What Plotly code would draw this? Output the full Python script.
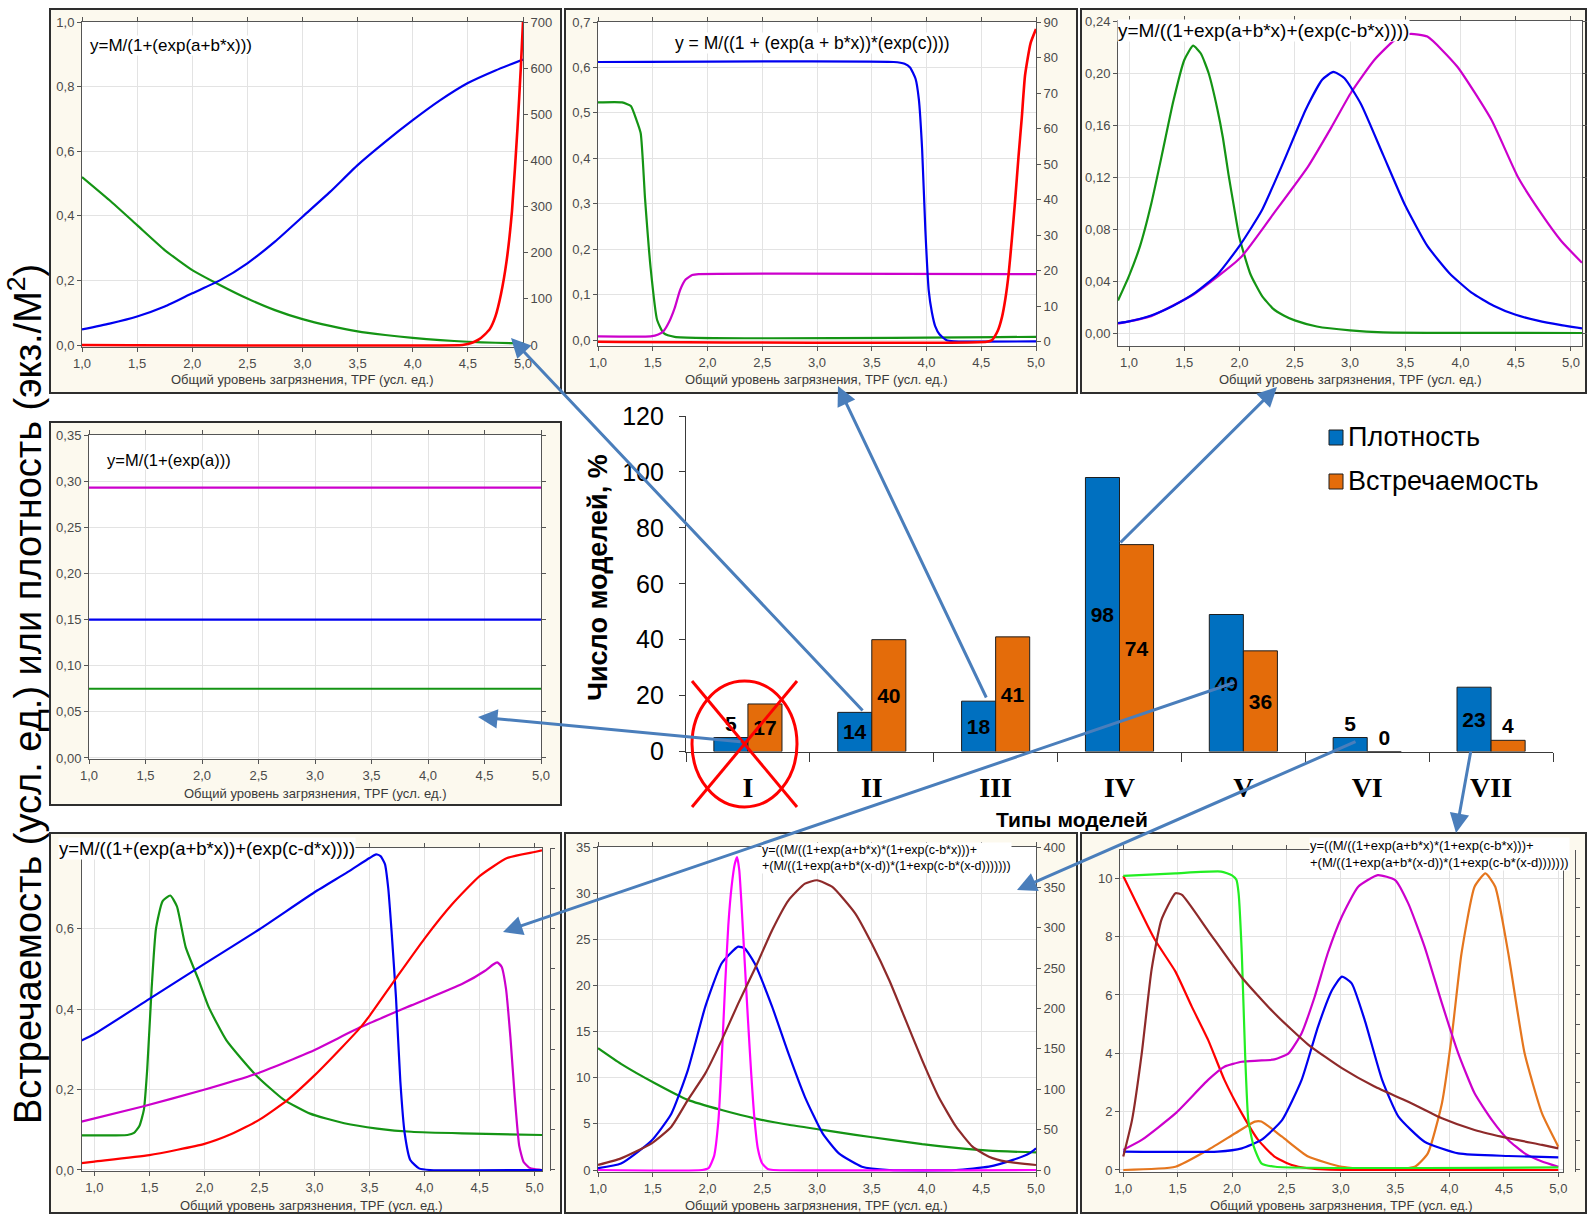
import plotly.graph_objects as go

W, H = 1588, 1217

# ------------------------------------------------------------------ data
# Share of models of each type, %
model_types = ["I", "II", "III", "IV", "V", "VI", "VII"]
density_pct = [5, 14, 18, 98, 49, 5, 23]
occurrence_pct = [17, 40, 41, 74, 36, 0, 4]

# Type I: y=M/(1+(exp(a)))  -- constant levels
t1_x = [1.0, 5.0]
t1_magenta = [0.293, 0.293]
t1_blue = [0.150, 0.150]
t1_green = [0.075, 0.075]

# Type II: y=M/(1+(exp(a+b*x)))
t2_x = [1.0, 1.25, 1.5, 1.75, 2.0, 2.25, 2.5, 2.75, 3.0, 3.25, 3.5, 3.75, 4.0, 4.25, 4.5, 4.75, 5.0]
t2_blue = [0.048, 0.066, 0.088, 0.119, 0.160, 0.200, 0.253, 0.320, 0.397, 0.474, 0.557, 0.629, 0.696, 0.758, 0.811, 0.850, 0.884]
t2_green = [0.520, 0.448, 0.371, 0.294, 0.232, 0.186, 0.144, 0.108, 0.080, 0.059, 0.042, 0.031, 0.022, 0.015, 0.010, 0.007, 0.005]
t2_red_x = [1.0, 4.45, 4.5, 4.55, 4.6, 4.65, 4.7, 4.75, 4.8, 4.85, 4.9, 4.95, 4.98, 5.0]
t2_red = [0, 0, 2, 6, 12, 22, 35, 62, 110, 180, 290, 470, 600, 700]

# Type III: y = M/((1 + (exp(a + b*x))*(exp(c))))
t3_blue_x = [1.0, 3.7, 3.8, 3.85, 3.9, 3.93, 3.96, 3.99, 4.02, 4.05, 4.08, 4.12, 4.18, 4.25, 5.0]
t3_blue = [0.612, 0.612, 0.608, 0.600, 0.575, 0.530, 0.420, 0.240, 0.110, 0.060, 0.030, 0.012, 0.000, -0.003, -0.003]
t3_green_x = [1.0, 1.22, 1.3, 1.35, 1.39, 1.43, 1.48, 1.54, 1.6, 1.7, 5.0]
t3_green = [0.523, 0.523, 0.515, 0.485, 0.455, 0.310, 0.160, 0.044, 0.015, 0.007, 0.007]
t3_magenta_x = [1.0, 1.48, 1.55, 1.6, 1.65, 1.7, 1.75, 1.8, 1.86, 1.92, 5.0]
t3_magenta = [0.008, 0.008, 0.012, 0.020, 0.040, 0.070, 0.110, 0.133, 0.143, 0.145, 0.145]
t3_red_x = [1.0, 4.55, 4.6, 4.65, 4.69, 4.72, 4.75, 4.78, 4.81, 4.84, 4.87, 4.9, 4.95, 5.0]
t3_red = [0, 0, 0.5, 3, 7, 12, 19, 29, 40, 52, 63, 75, 84, 88]

# Type IV: y=M/((1+exp(a+b*x)+(exp(c-b*x))))
t4_green_x = [0.9, 1.0, 1.1, 1.2, 1.3, 1.4, 1.5, 1.58, 1.65, 1.72, 1.8, 1.85, 1.9, 1.95, 2.0, 2.1, 2.2, 2.3, 2.4, 2.5, 2.7, 3.0, 3.3, 5.1]
t4_green = [0.025, 0.044, 0.067, 0.099, 0.138, 0.178, 0.210, 0.221, 0.215, 0.200, 0.172, 0.150, 0.122, 0.097, 0.073, 0.045, 0.029, 0.019, 0.0135, 0.0097, 0.005, 0.002, 0.0005, 0.0]
t4_blue_x = [0.9, 1.0, 1.2, 1.4, 1.6, 1.8, 2.0, 2.2, 2.4, 2.6, 2.75, 2.85, 2.95, 3.1, 3.3, 3.5, 3.7, 3.9, 4.1, 4.3, 4.5, 4.7, 4.9, 5.1]
t4_blue = [0.0077, 0.009, 0.0135, 0.021, 0.031, 0.045, 0.067, 0.094, 0.132, 0.172, 0.195, 0.2008, 0.196, 0.176, 0.137, 0.098, 0.067, 0.046, 0.031, 0.021, 0.014, 0.0095, 0.0062, 0.0035]
t4_magenta_x = [0.9, 1.2, 1.59, 2.01, 2.31, 2.62, 2.83, 3.01, 3.22, 3.40, 3.54, 3.70, 3.97, 4.28, 4.52, 4.73, 4.91, 5.1]
t4_magenta = [0.0072, 0.013, 0.030, 0.058, 0.092, 0.128, 0.158, 0.185, 0.210, 0.225, 0.230, 0.228, 0.205, 0.164, 0.120, 0.092, 0.071, 0.054]

# Type V: y=M/((1+(exp(a+b*x))+(exp(c-d*x))))
t5_blue_x = [0.883, 1.0, 1.5, 2.0, 2.5, 3.0, 3.3, 3.5, 3.56, 3.6, 3.64, 3.67, 3.7, 3.74, 3.78, 3.82, 3.87, 3.95, 4.05, 5.067]
t5_blue = [0.322, 0.338, 0.425, 0.512, 0.598, 0.690, 0.740, 0.775, 0.784, 0.780, 0.760, 0.700, 0.594, 0.430, 0.220, 0.090, 0.025, 0.004, 0.0, 0.0]
t5_green_x = [0.883, 1.3, 1.36, 1.41, 1.45, 1.48, 1.52, 1.56, 1.62, 1.69, 1.75, 1.83, 1.95, 2.04, 2.2, 2.47, 2.72, 2.96, 3.27, 3.57, 3.88, 4.34, 5.067]
t5_green = [0.086, 0.087, 0.092, 0.110, 0.150, 0.250, 0.450, 0.600, 0.668, 0.682, 0.655, 0.553, 0.470, 0.404, 0.322, 0.235, 0.175, 0.140, 0.116, 0.103, 0.095, 0.091, 0.087]
t5_red_x = [0.883, 1.0, 1.5, 2.0, 2.25, 2.5, 2.75, 3.0, 3.25, 3.42, 3.5, 3.75, 4.0, 4.25, 4.5, 4.75, 5.0, 5.067]
t5_red = [0.017, 0.021, 0.037, 0.065, 0.090, 0.125, 0.173, 0.235, 0.305, 0.355, 0.383, 0.480, 0.575, 0.660, 0.730, 0.775, 0.790, 0.794]
t5_magenta_x = [0.883, 1.43, 1.98, 2.47, 2.96, 3.42, 3.88, 4.34, 4.55, 4.62, 4.66, 4.7, 4.74, 4.78, 4.82, 4.86, 4.9, 4.95, 5.0, 5.067]
t5_magenta = [0.120, 0.157, 0.198, 0.239, 0.293, 0.355, 0.409, 0.462, 0.495, 0.510, 0.516, 0.505, 0.450, 0.330, 0.180, 0.060, 0.020, 0.006, 0.002, 0.0]

# Type VI: sum of two bell-shaped terms (brown on the right axis)
t6_pink_x = [1.0, 1.95, 2.01, 2.06, 2.1, 2.13, 2.16, 2.19, 2.22, 2.25, 2.27, 2.29, 2.31, 2.34, 2.37, 2.4, 2.43, 2.46, 2.5, 2.55, 2.6, 5.0]
t6_pink = [0, 0, 0.2, 1.5, 5.4, 12.0, 19.8, 26.5, 30.7, 33.2, 33.9, 32.5, 28.9, 22.5, 16.2, 10.3, 5.4, 2.3, 0.7, 0.1, 0, 0]
t6_blue_x = [1.0, 1.21, 1.49, 1.67, 1.82, 1.98, 2.13, 2.28, 2.34, 2.43, 2.59, 2.74, 2.89, 3.05, 3.2, 3.41, 3.66, 4.27, 4.57, 4.79, 4.94, 5.0]
t6_blue = [0.2, 0.7, 3.2, 6.1, 10.8, 17.7, 22.4, 24.2, 24.0, 22.4, 17.7, 12.6, 7.9, 4.0, 1.8, 0.36, 0, 0, 0.36, 1.1, 1.8, 2.35]
t6_green_x = [1.0, 1.21, 1.52, 1.82, 2.13, 2.43, 2.74, 3.05, 3.35, 3.66, 3.96, 4.27, 4.57, 5.0]
t6_green = [13.2, 11.5, 9.4, 7.6, 6.5, 5.6, 4.9, 4.35, 3.8, 3.3, 2.8, 2.4, 2.1, 1.9]
t6_brown_x = [1.0, 1.21, 1.49, 1.67, 1.82, 1.98, 2.13, 2.28, 2.44, 2.59, 2.74, 2.89, 3.0, 3.14, 3.35, 3.5, 3.66, 3.81, 3.96, 4.11, 4.27, 4.42, 4.57, 4.73, 5.0]
t6_brown = [6.2, 14.4, 33, 53.6, 86.6, 119.6, 160.8, 206, 251.5, 297, 334, 354.6, 358.8, 350.5, 317.5, 280.4, 235, 185.6, 136, 90.7, 53.6, 28.9, 16.5, 10.3, 6.2]

# Type VII: sum of two bell-shaped terms
t7_lime_x = [1.0, 1.48, 1.9, 2.0, 2.04, 2.06, 2.09, 2.12, 2.15, 2.2, 2.27, 2.4, 5.0]
t7_lime = [10.08, 10.17, 10.23, 10.1, 9.95, 9.5, 7.4, 4.0, 1.7, 0.8, 0.23, 0.11, 0.09]
t7_red_x = [1.0, 1.29, 1.48, 1.63, 1.78, 1.93, 2.09, 2.24, 2.39, 2.55, 2.7, 2.85, 3.2, 5.0]
t7_red = [10.08, 7.9, 6.8, 5.6, 4.46, 3.09, 1.94, 1.03, 0.46, 0.17, 0.06, 0.02, 0.0, 0.0]
t7_brown_x = [1.0, 1.08, 1.17, 1.26, 1.35, 1.48, 1.54, 1.78, 2.09, 2.39, 2.7, 3.01, 3.31, 3.62, 3.93, 4.23, 4.54, 4.85, 5.0]
t7_brown = [0.46, 1.7, 4.0, 6.86, 8.57, 9.49, 9.43, 8.2, 6.6, 5.37, 4.3, 3.49, 2.86, 2.34, 1.77, 1.37, 1.09, 0.86, 0.74]
t7_magenta_x = [1.0, 1.17, 1.48, 1.78, 1.93, 2.09, 2.24, 2.39, 2.52, 2.64, 2.76, 2.88, 3.01, 3.16, 3.34, 3.5, 3.62, 3.77, 3.93, 4.08, 4.23, 4.39, 4.54, 4.69, 4.85, 5.0]
t7_magenta = [0.69, 1.03, 1.94, 3.09, 3.54, 3.71, 3.75, 3.79, 4.0, 4.69, 5.94, 7.43, 8.69, 9.71, 10.11, 9.94, 9.14, 7.66, 5.71, 4.0, 2.63, 1.71, 1.03, 0.57, 0.29, 0.11]
t7_blue_x = [1.0, 1.87, 2.09, 2.27, 2.46, 2.64, 2.79, 2.92, 3.01, 3.1, 3.22, 3.38, 3.53, 3.77, 4.08, 4.54, 5.0]
t7_blue = [0.63, 0.63, 0.74, 1.03, 1.71, 3.09, 4.91, 6.17, 6.63, 6.4, 5.14, 3.09, 1.83, 0.97, 0.57, 0.48, 0.43]
t7_orange_x = [1.0, 1.48, 1.78, 2.03, 2.21, 2.27, 2.46, 2.7, 3.01, 3.31, 3.68, 3.8, 3.93, 4.02, 4.11, 4.23, 4.33, 4.42, 4.54, 4.69, 4.85, 5.0]
t7_orange = [0.0, 0.11, 0.69, 1.26, 1.66, 1.66, 1.14, 0.46, 0.11, 0.02, 0.11, 0.57, 2.29, 4.57, 7.43, 9.71, 10.17, 9.71, 7.43, 4.0, 1.94, 0.8]

# ------------------------------------------------------------------ style
BLUE = "#0000F0"
GREEN = "#149414"
RED = "#FF0000"
MAGENTA = "#CC00CC"
PINK = "#FF00FF"
BROWN = "#8E2A2A"
ORANGE = "#E5761E"
LIME = "#22EE22"
BAR_BLUE = "#0070C0"
BAR_ORANGE = "#E46C0A"
ARROW = "#4A7EBB"
CREAM = "#FCF9EE"
FRAME = "#2E2E2E"
AXLINE = "#555555"
GRID = "#E3E3E3"
SANS = "Liberation Sans, Arial, sans-serif"
SERIF = "Liberation Serif, Times New Roman, serif"
TICKFONT = dict(family=SANS, size=13, color="#4A4A4A")
XTITLE = "Общий уровень загрязнения, TPF (усл. ед.)"


def xd(left, right):
    return [left / W, right / W]


def yd(top, bottom):
    return [1 - bottom / H, 1 - top / H]


def panel_x(domain, rng, anchor):
    return dict(domain=domain, range=rng, anchor=anchor, tick0=1.0, dtick=0.5,
                tickformat=".1f", showline=True, linecolor=AXLINE, linewidth=1,
                mirror="ticks", ticks="outside", ticklen=4, tickcolor=AXLINE,
                showgrid=True, gridcolor=GRID, gridwidth=1, zeroline=False,
                tickfont=TICKFONT, automargin=False)


def panel_y(domain, rng, anchor, dtick, fmt, mirror="ticks", tickvals=None):
    d = dict(domain=domain, range=rng, anchor=anchor, dtick=dtick, tick0=0,
             tickformat=fmt, showline=True, linecolor=AXLINE, linewidth=1,
             mirror=mirror, ticks="outside", ticklen=4, tickcolor=AXLINE,
             showgrid=True, gridcolor=GRID, gridwidth=1, zeroline=False,
             tickfont=TICKFONT, automargin=False)
    if tickvals is not None:
        d["tickvals"] = tickvals
    return d


def right_y(over, rng, anchor, dtick, fmt, labels=True, position=None):
    d = dict(overlaying=over, side="right", range=rng, dtick=dtick, tick0=0,
             tickformat=fmt, showline=True, linecolor=AXLINE, linewidth=1,
             ticks="outside", ticklen=4, tickcolor=AXLINE, showgrid=False,
             zeroline=False, tickfont=TICKFONT, showticklabels=labels,
             automargin=False)
    if position is None:
        d["anchor"] = anchor
    else:
        d["anchor"] = "free"
        d["position"] = position
    return d


def curve(x, y, color, xa, ya, width=2.2):
    return go.Scatter(x=x, y=y, mode="lines", xaxis=xa, yaxis=ya,
                      line=dict(color=color, width=width, shape="spline", smoothing=0.5),
                      showlegend=False, hoverinfo="skip")


traces = [
    # type II panel (top left)
    curve(t2_x, t2_green, GREEN, "x", "y"),
    curve(t2_x, t2_blue, BLUE, "x", "y"),
    curve(t2_red_x, t2_red, RED, "x", "y2", 2.6),
    # type III panel (top middle)
    curve(t3_green_x, t3_green, GREEN, "x2", "y3"),
    curve(t3_magenta_x, t3_magenta, MAGENTA, "x2", "y3"),
    curve(t3_blue_x, t3_blue, BLUE, "x2", "y3"),
    curve(t3_red_x, t3_red, RED, "x2", "y4", 2.6),
    # type IV panel (top right)
    curve(t4_green_x, t4_green, GREEN, "x3", "y5"),
    curve(t4_magenta_x, t4_magenta, MAGENTA, "x3", "y5"),
    curve(t4_blue_x, t4_blue, BLUE, "x3", "y5"),
    # type I panel (middle left)
    curve(t1_x, t1_magenta, MAGENTA, "x4", "y6"),
    curve(t1_x, t1_blue, BLUE, "x4", "y6"),
    curve(t1_x, t1_green, GREEN, "x4", "y6"),
    # type V panel (bottom left)
    curve(t5_green_x, t5_green, GREEN, "x5", "y7"),
    curve(t5_magenta_x, t5_magenta, MAGENTA, "x5", "y7"),
    curve(t5_red_x, t5_red, RED, "x5", "y8"),
    curve(t5_blue_x, t5_blue, BLUE, "x5", "y7"),
    # type VI panel (bottom middle)
    curve(t6_green_x, t6_green, GREEN, "x6", "y9"),
    curve(t6_brown_x, t6_brown, BROWN, "x6", "y10"),
    curve(t6_blue_x, t6_blue, BLUE, "x6", "y9"),
    curve(t6_pink_x, t6_pink, PINK, "x6", "y9"),
    # type VII panel (bottom right)
    curve(t7_orange_x, t7_orange, ORANGE, "x7", "y11"),
    curve(t7_brown_x, t7_brown, BROWN, "x7", "y12"),
    curve(t7_red_x, t7_red, RED, "x7", "y11"),
    curve(t7_magenta_x, t7_magenta, MAGENTA, "x7", "y11"),
    curve(t7_blue_x, t7_blue, BLUE, "x7", "y11"),
    curve(t7_lime_x, t7_lime, LIME, "x7", "y11"),
]


def label_positions(values, limit=8):
    return ["inside" if v >= limit else "outside" for v in values]


BAR_TEXT = dict(family="Liberation Sans Narrow, Arial Narrow, " + SANS, size=21,
                color="black", weight="bold")
for name, vals, color in (("Плотность", density_pct, BAR_BLUE),
                          ("Встречаемость", occurrence_pct, BAR_ORANGE)):
    traces.append(go.Bar(
        x=model_types, y=vals, name=name, xaxis="x8", yaxis="y13",
        marker=dict(color=color, line=dict(color="#1E1E1E", width=1)),
        text=[str(v) for v in vals], textposition=label_positions(vals),
        insidetextanchor="middle", textfont=BAR_TEXT, cliponaxis=False,
        showlegend=False, hoverinfo="skip"))

fig = go.Figure(data=traces)

# ------------------------------------------------------------------ axes
PLOTS = {
    "t2": (82, 22, 523, 347),
    "t3": (598, 22, 1036, 346),
    "t4": (1118, 21, 1582, 346),
    "t1": (89, 435, 541, 759),
    "t5": (81.5, 848, 542, 1171),
    "t6": (598, 847, 1036, 1172),
    "t7": (1120, 850, 1563, 1172),
}


def dom(key):
    l, t, r, b = PLOTS[key]
    return xd(l, r), yd(t, b)


axes = dict(
    # top left: type II
    xaxis=panel_x(dom("t2")[0], [1.0, 5.0], "y"),
    yaxis=panel_y(dom("t2")[1], [-0.0062, 1.0], "x", 0.2, ".1f", mirror=False),
    yaxis2=right_y("y", [-4.33, 700], "x", 100, "d"),
    # top middle: type III
    xaxis2=panel_x(dom("t3")[0], [1.0, 5.0], "y3"),
    yaxis3=panel_y(dom("t3")[1], [-0.0132, 0.7], "x2", 0.1, ".1f", mirror=False),
    yaxis4=right_y("y3", [-1.21, 90], "x2", 10, "d"),
    # top right: type IV
    xaxis3=panel_x(dom("t4")[0], [0.9, 5.1], "y5"),
    yaxis5=panel_y(dom("t4")[1], [-0.01, 0.24], "x3", 0.04, ".2f"),
    # middle left: type I
    xaxis4=panel_x(dom("t1")[0], [1.0, 5.0], "y6"),
    yaxis6=panel_y(dom("t1")[1], [-0.0011, 0.35], "x4", 0.05, ".2f"),
    # bottom left: type V
    xaxis5=panel_x(dom("t5")[0], [0.883, 5.067], "y7"),
    yaxis7=panel_y(dom("t5")[1], [-0.0025, 0.8], "x5", 0.2, ".1f", mirror=True,
                   tickvals=[0, 0.2, 0.4, 0.6]),
    yaxis8=right_y("y7", [-0.0025, 0.8], "x5", 0.1, ".1f", labels=False, position=550 / W),
    # bottom middle: type VI
    xaxis6=panel_x(dom("t6")[0], [1.0, 5.0], "y9"),
    yaxis9=panel_y(dom("t6")[1], [-0.217, 35], "x6", 5, "d", mirror=False),
    yaxis10=right_y("y9", [-2.48, 400], "x6", 50, "d"),
    # bottom right: type VII
    xaxis7=panel_x(dom("t7")[0], [0.97, 5.043], "y11"),
    yaxis11=panel_y(dom("t7")[1], [-0.069, 10.97], "x7", 2, "d", mirror=True),
    yaxis12=right_y("y11", [-0.069, 10.97], "x7", 1, "d", labels=False, position=1575 / W),
    # central bar chart
    xaxis8=dict(domain=xd(686, 1553), anchor="y13", type="category", range=[-0.5, 6.5],
                showline=True, linecolor="#3A3A3A", linewidth=1.2, ticks="outside",
                tickson="boundaries", ticklen=9, tickcolor="#3A3A3A", showgrid=False,
                tickfont=dict(family=SERIF, size=28, color="black", weight="bold"),
                ticklabelstandoff=11, automargin=False),
    yaxis13=dict(domain=yd(416, 751.5), anchor="x8", range=[0, 120], dtick=20,
                 showline=True, linecolor="#3A3A3A", linewidth=1.2, ticks="outside",
                 ticklen=6, tickcolor="#3A3A3A", showgrid=False, zeroline=False,
                 tickfont=dict(family=SANS, size=25, color="black"),
                 ticklabelstandoff=10, automargin=False),
)
fig.update_layout(**axes)

# ------------------------------------------------------------------ panel frames
BOXES = {
    "t2": (50, 9, 561, 393),
    "t3": (565, 9, 1077, 393),
    "t4": (1081, 9, 1586, 393),
    "t1": (50, 422, 561, 805),
    "t5": (50, 833, 561, 1213),
    "t6": (565, 833, 1077, 1213),
    "t7": (1081, 833, 1586, 1213),
}
shapes = []
for key, (bl, bt, br, bb) in BOXES.items():
    pl, pt, pr, pb = PLOTS[key]
    shapes.append(dict(type="rect", xref="paper", yref="paper", layer="below",
                       x0=bl / W, x1=br / W, y0=1 - bb / H, y1=1 - bt / H,
                       fillcolor=CREAM, line=dict(color=FRAME, width=2)))
    shapes.append(dict(type="rect", xref="paper", yref="paper", layer="below",
                       x0=pl / W, x1=pr / W, y0=1 - pb / H, y1=1 - pt / H,
                       fillcolor="white", line=dict(width=0)))

# crossed-out circle over type I
shapes.append(dict(type="circle", xref="paper", yref="paper",
                   x0=692 / W, x1=797 / W, y0=1 - 807 / H, y1=1 - 681 / H,
                   line=dict(color=RED, width=3)))
for (x0, y0, x1, y1) in ((692, 681, 797, 807), (797, 681, 692, 807)):
    shapes.append(dict(type="line", xref="paper", yref="paper",
                       x0=x0 / W, y0=1 - y0 / H, x1=x1 / W, y1=1 - y1 / H,
                       line=dict(color=RED, width=3)))

# legend swatches
for (top, color) in ((430, BAR_BLUE), (474, BAR_ORANGE)):
    shapes.append(dict(type="rect", xref="paper", yref="paper",
                       x0=1329 / W, x1=1343 / W, y0=1 - (top + 15) / H, y1=1 - top / H,
                       fillcolor=color, line=dict(color="#1E1E1E", width=1)))

fig.update_layout(shapes=shapes)

# ------------------------------------------------------------------ texts
ann = []


def text(x, y, s, size, xanchor="left", yanchor="middle", bold=False, family=SANS,
         angle=0, bg=None, align="left", color="black"):
    d = dict(x=x / W, y=1 - y / H, xref="paper", yref="paper", text=s, showarrow=False,
             xanchor=xanchor, yanchor=yanchor, textangle=angle, align=align,
             font=dict(family=family, size=size, color=color,
                       weight="bold" if bold else "normal"),
             borderpad=0)
    if bg:
        d["bgcolor"] = bg
    ann.append(d)


# x-axis titles of the model panels
for key, ty in (("t2", 380), ("t3", 380), ("t4", 380), ("t1", 793),
                ("t5", 1205), ("t6", 1205), ("t7", 1205)):
    pl, pt, pr, pb = PLOTS[key]
    text((pl + pr) / 2, ty, XTITLE, 13, xanchor="center", color="#3A3A3A")

# model formulas
text(89, 46, "y=M/(1+(exp(a+b*x)))", 17, bg="white")
text(812, 43, "y = M/((1 + (exp(a + b*x))*(exp(c))))", 17.5, xanchor="center", bg="white")
text(1117, 30, "y=M/((1+exp(a+b*x)+(exp(c-b*x))))", 19, bg="white")
text(106, 460, "y=M/(1+(exp(a)))", 16.5, bg="white")
text(58, 848, "y=M/((1+(exp(a+b*x))+(exp(c-d*x))))", 18.5, bg="white")
text(761, 842, "y=((M/((1+exp(a+b*x)*(1+exp(c-b*x)))+<br>+(M/((1+exp(a+b*(x-d))*(1+exp(c-b*(x-d)))))))",
     12.5, yanchor="top", bg="white")
text(1309, 837, "y=((M/((1+exp(a+b*x)*(1+exp(c-b*x)))+<br>+(M/((1+exp(a+b*(x-d))*(1+exp(c-b*(x-d)))))))",
     13, yanchor="top", bg="white")

# bar chart titles and legend
text(598, 578, "Число моделей, %", 27, xanchor="center", bold=True, angle=-90)
text(1072, 819, "Типы моделей", 21, xanchor="center", bold=True)
text(1347, 437, "Плотность", 27)
text(1347, 481, "Встречаемость", 27)

# common y title
text(25, 694, "Встречаемость (усл. ед.) или плотность (экз./М<sup>2</sup>)", 38,
     xanchor="center", angle=-90)

# arrows from bar groups to their model panels: (tail, head) in px
ARROWS = [
    ((864, 712), (511, 338)),
    ((987, 699), (838, 386)),
    ((1119, 544), (1277, 387)),
    ((742, 742), (478, 717)),
    ((1236, 682), (503, 932)),
    ((1357, 741), (1017, 890)),
    ((1471, 750), (1456, 833)),
]
for (tx, ty), (hx, hy) in ARROWS:
    ann.append(dict(x=hx / W, y=1 - hy / H, xref="paper", yref="paper",
                    ax=tx - hx, ay=ty - hy, axref="pixel", ayref="pixel",
                    text="", showarrow=True, arrowhead=2, arrowsize=1.3,
                    arrowwidth=3, arrowcolor=ARROW, standoff=0))

fig.update_layout(
    annotations=ann,
    width=W, height=H, margin=dict(l=0, r=0, t=0, b=0, autoexpand=False),
    paper_bgcolor="white", plot_bgcolor="rgba(0,0,0,0)",
    separators=", ", showlegend=False,
    barmode="group", bargap=0.45, bargroupgap=0.0,
    uniformtext=dict(minsize=19, mode="show"),
)

fig.write_html("out.html")
